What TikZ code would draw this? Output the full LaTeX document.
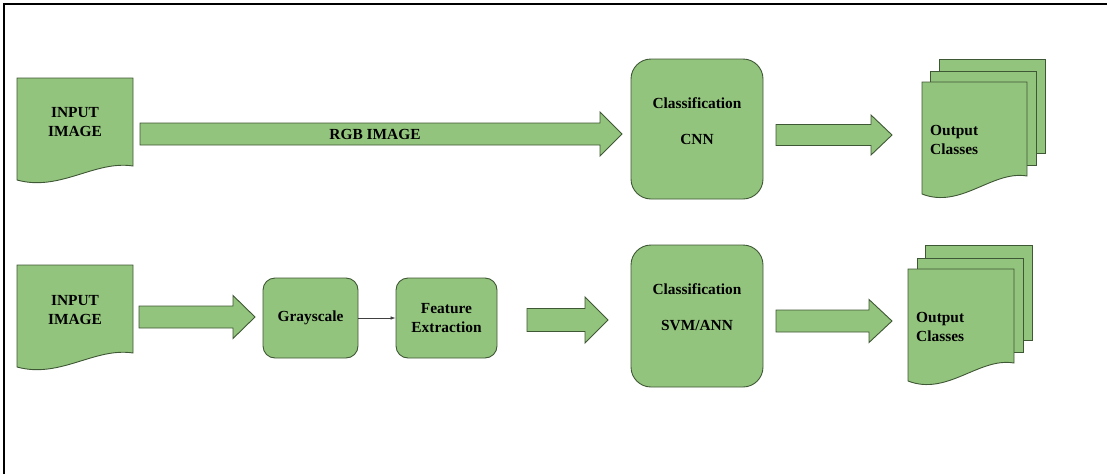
\documentclass[tikz,border=0pt]{standalone}
\usepackage{fontspec}
\setmainfont{Liberation Serif}
\usetikzlibrary{arrows.meta}

\definecolor{boxfill}{HTML}{93C47D}
\definecolor{boxline}{HTML}{3E5734}

\tikzset{
  shapestyle/.style={fill=boxfill, draw=boxline, line width=0.9pt, line join=miter},
  txt/.style={font=\fontsize{15.4}{19}\selectfont\bfseries, text=black, inner sep=0pt, align=center},
  txtleft/.style={txt, align=left, anchor=west},
  procbox/.style={shapestyle, rounded corners=#1, inner sep=0pt},
  thinarrow/.style={-{Latex[length=5pt,width=3.5pt]}, line width=0.6pt, draw=black!75},
}

% document shape: left, top, right, right-bottom, left-bottom drop
\newcommand\docshape[5]{%
  \filldraw[shapestyle] (#1,#2) -- (#3,#2) -- (#3,#4)
    .. controls ({#3-0.33*(#3-#1)},{#4-6}) and ({#1+0.37*(#3-#1)},{#4+1.85*#5}) ..
    (#1,{#4+#5}) -- cycle;}

% block arrow: x start, x neck, x tip, y middle, shaft half height, head half height
\newcommand\blockarrow[6]{%
  \filldraw[shapestyle] (#1,{#4-#5}) -- (#2,{#4-#5}) -- (#2,{#4-#6}) -- (#3,#4)
    -- (#2,{#4+#6}) -- (#2,{#4+#5}) -- (#1,{#4+#5}) -- cycle;}

\begin{document}
\begin{tikzpicture}[x=1pt,y=-1pt]
  \useasboundingbox (0,0) rectangle (1107,474);

  % frame
  \draw[line width=2pt] (4,474) -- (4,4) -- (1107,4);

  % ---------- upper pipeline ----------
  \docshape{17}{78}{133}{166}{14}
  \node[txt] (in1) at (75,122) {INPUT\\IMAGE};

  \blockarrow{140}{600}{622}{134}{11}{22}
  \node[txt] (rgb) at (375,134) {RGB IMAGE};

  \node[procbox=20pt, minimum width=132pt, minimum height=140pt] (cnn) at (697,129) {};
  \node[txt] (cnntext) at (697,121) {Classification\\[17pt]CNN};

  \blockarrow{776}{871}{892}{135}{10.5}{20}

  \filldraw[shapestyle] (939,59) rectangle (1045,153);
  \filldraw[shapestyle] (930,71) rectangle (1036,165);
  \docshape{922}{82}{1027}{176}{18}
  \node[txtleft] (out1) at (930,140) {Output\\Classes};

  % ---------- lower pipeline ----------
  \docshape{17}{265}{133}{353}{14}
  \node[txt] (in2) at (75,310) {INPUT\\IMAGE};

  \blockarrow{139}{233}{255}{317}{11}{21.5}

  \node[procbox=12pt, minimum width=95pt, minimum height=80pt, txt] (gray) at (310.5,318) {Grayscale};
  \node[procbox=12pt, minimum width=101pt, minimum height=80pt, txt] (feat) at (446.5,318) {Feature\\Extraction};
  \draw[thinarrow] (gray.east) -- (feat.west);

  \blockarrow{527}{585}{608}{320}{11.5}{23}

  \node[procbox=20pt, minimum width=132pt, minimum height=142pt] (svm) at (697,316) {};
  \node[txt] (svmtext) at (697,307.5) {Classification\\[17pt]SVM/ANN};

  \blockarrow{776}{869}{892}{321}{11}{21.5}

  \filldraw[shapestyle] (925,245) rectangle (1032,340);
  \filldraw[shapestyle] (917,258) rectangle (1023,352);
  \docshape{908}{269}{1014}{363}{18}
  \node[txtleft] (out2) at (916,326.5) {Output\\Classes};
\end{tikzpicture}
\end{document}
